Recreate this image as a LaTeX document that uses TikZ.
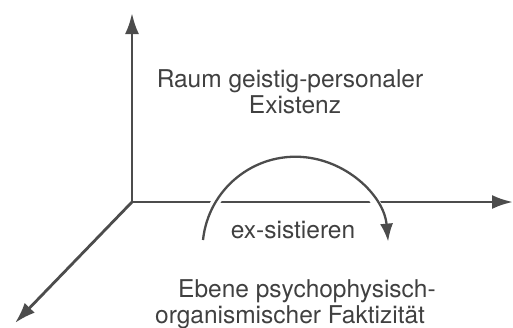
\documentclass[tikz,border=0pt]{standalone}
\usepackage{fontspec}
\setmainfont{TeX Gyre Heros}
\usetikzlibrary{arrows.meta}
\definecolor{ink}{gray}{0.30}
\definecolor{txt}{gray}{0.25}
\tikzset{
  axis/.style={draw=ink, line width=2.8pt, -{Latex[length=21pt,width=14pt]}},
  turn/.style={draw=ink, line width=2.3pt, -{Latex[length=18pt,width=13pt]}},
  gap/.style={draw=white, line width=9pt},
  lbl/.style={text=txt, font=\fontsize{24.5}{27}\selectfont, inner sep=0pt}
}
\begin{document}
\begin{tikzpicture}[x=1pt,y=-1pt]
\useasboundingbox (0,0) rectangle (513,327);
\coordinate (O) at (132,202);
\coordinate (up) at (132,13);
\coordinate (right) at (513,202);
\coordinate (down) at (15,323);
\coordinate (arcstart) at (203,240);
\draw[axis] (O) -- (up);
\draw[axis] (O) -- (right);
\draw[axis] (O) -- (down);
\draw[gap] (arcstart) arc[start angle=174, end angle=8, radius=93pt];
\draw[turn] (arcstart) arc[start angle=174, end angle=5, radius=93pt];
\node[lbl, anchor=base] (raum) at (290,87) {Raum geistig-personaler};
\node[lbl, anchor=base] (exist) at (295,113) {Existenz};
\node[lbl, anchor=base] (ex) at (293,238) {ex-sistieren};
\node[lbl, anchor=base west] (ebene) at (178,297) {Ebene psychophysisch-};
\node[lbl, anchor=base west] (org) at (155,323) {organismischer Faktizität};
\end{tikzpicture}
\end{document}
